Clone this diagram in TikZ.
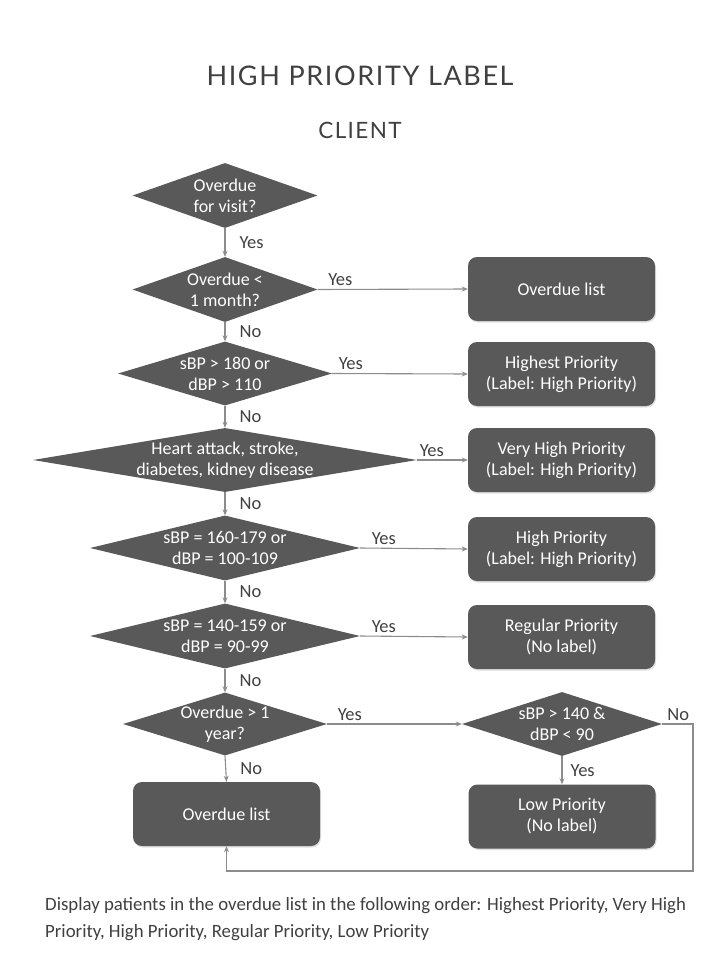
\documentclass[tikz,border=0pt]{standalone}
\usepackage{fontspec}
\setmainfont{Carlito}
\newfontfamily\headfont[LetterSpace=6]{Lato}
\usetikzlibrary{shapes.geometric,arrows.meta,shadows}

\definecolor{shapegray}{HTML}{595959}
\definecolor{linegray}{HTML}{8C8C8C}
\definecolor{inkgray}{HTML}{404040}

\newcommand{\boxfont}{\fontsize{18}{21}\selectfont}

\tikzset{
  decision/.style={diamond, fill=shapegray, inner sep=0pt, minimum width=#1},
  decisiontext/.style={text=white, align=center, font=\boxfont, inner sep=0pt},
  outcome/.style={rectangle, rounded corners=9pt, fill=shapegray, text=white,
    align=center, font=\boxfont, minimum width=187pt, minimum height=64pt,
    drop shadow={opacity=0.25, shadow xshift=1pt, shadow yshift=-1.5pt}},
  flow/.style={draw=linegray, line width=1.1pt, -{Stealth[length=6pt,width=5pt]}},
  answer/.style={text=inkgray, font=\fontsize{18.5}{21}\selectfont, inner sep=2pt},
  heading/.style={text=inkgray, font=\headfont\fontsize{#1}{#1}\selectfont},
}

\begin{document}
\begin{tikzpicture}[x=1pt,y=-1pt]

\useasboundingbox (0,0) rectangle (720,960);

\coordinate (visit-pos) at (225,195.5);
\coordinate (month-pos) at (225,289.5);
\coordinate (bp180-pos) at (225,373.5);
\coordinate (risk-pos) at (225,460);
\coordinate (bp160-pos) at (225,548);
\coordinate (bp140-pos) at (225,636);
\coordinate (year-pos) at (225,724);
\coordinate (lowcheck-pos) at (562,724);
\coordinate (loop-corner) at (693,871);

\node [heading=27] (title) at (360,76) {HIGH PRIORITY LABEL};
\node [heading=22.5] (client) at (360,130) {CLIENT};

\node [decision=185pt, minimum height=65pt, label={[decisiontext]center:{Overdue\\for visit?}}] (visit) at (visit-pos) {};
\node [decision=185pt, minimum height=65pt, label={[decisiontext]center:{Overdue <\\1 month?}}] (month) at (month-pos) {};
\node [decision=214pt, minimum height=64pt, label={[decisiontext]center:{sBP > 180 or\\dBP > 110}}] (bp180) at (bp180-pos) {};
\node [decision=384pt, minimum height=64pt, label={[decisiontext]center:{Heart attack, stroke,\\diabetes, kidney disease}}] (risk) at (risk-pos) {};
\node [decision=270pt, minimum height=65pt, label={[decisiontext]center:{sBP = 160-179 or\\dBP = 100-109}}] (bp160) at (bp160-pos) {};
\node [decision=270pt, minimum height=65pt, label={[decisiontext]center:{sBP = 140-159 or\\dBP = 90-99}}] (bp140) at (bp140-pos) {};
\node [decision=204pt, minimum height=63pt, label={[decisiontext]center:{Overdue > 1\\year?}}] (year) at (year-pos) {};
\node [decision=200pt, minimum height=64pt, label={[decisiontext]center:{sBP > 140 \&\\dBP < 90}}] (lowcheck) at (lowcheck-pos) {};

\node [outcome] (list-right) at (561.5,289) {Overdue list};
\node [outcome] (highest) at (561.5,374) {Highest Priority\\(Label: High Priority)};
\node [outcome] (very-high) at (561.5,460) {Very High Priority\\(Label: High Priority)};
\node [outcome] (high) at (561.5,549) {High Priority\\(Label: High Priority)};
\node [outcome] (regular) at (561.5,637) {Regular Priority\\(No label)};
\node [outcome] (low) at (562,816.5) {Low Priority\\(No label)};
\node [outcome] (list-left) at (226.5,814) {Overdue list};

\draw [flow] (visit.south) -- (month.north) node [answer, midway, right, xshift=12pt] {Yes};
\draw [flow] (month.south) -- (bp180.north) node [answer, midway, right, xshift=12pt] {No};
\draw [flow] (bp180.south) -- (risk.north) node [answer, midway, right, xshift=12pt] {No};
\draw [flow] (risk.south) -- (bp160.north) node [answer, midway, right, xshift=12pt] {No};
\draw [flow] (bp160.south) -- (bp140.north) node [answer, midway, right, xshift=12pt] {No};
\draw [flow] (bp140.south) -- (year.north) node [answer, midway, right, xshift=12pt] {No};
\draw [flow] (year.south) -- (list-left.north) node [answer, midway, right, xshift=12pt] {No};

\draw [flow] (month.east) -- (list-right.west) node [answer, pos=0, above right, xshift=8pt, yshift=1pt] {Yes};
\draw [flow] (bp180.east) -- (highest.west) node [answer, pos=0, above right, xshift=4pt, yshift=1pt] {Yes};
\draw [flow] (risk.east) -- (very-high.west) node [answer, pos=0, above right, xshift=0pt, yshift=1pt] {Yes};
\draw [flow] (bp160.east) -- (high.west) node [answer, pos=0, above right, xshift=9pt, yshift=1pt] {Yes};
\draw [flow] (bp140.east) -- (regular.west) node [answer, pos=0, above right, xshift=9pt, yshift=1pt] {Yes};
\draw [flow] (year.east) -- (lowcheck.west) node [answer, pos=0, above right, xshift=8pt, yshift=1pt] {Yes};

\draw [flow] (lowcheck.south) -- (low.north) node [answer, midway, right, xshift=6pt] {Yes};
\draw [flow] (lowcheck.east) -| (loop-corner) -| (list-left.south);
\node [answer, above right, xshift=3pt, yshift=1pt] (no-label) at (lowcheck.east) {No};

\node [anchor=north west, align=left, inner sep=0pt, text=inkgray, font=\fontsize{18.8}{27}\selectfont] (caption) at (45,897)
  {Display patients in the overdue list in the following order: Highest Priority, Very High\\Priority, High Priority, Regular Priority, Low Priority};

\end{tikzpicture}
\end{document}
